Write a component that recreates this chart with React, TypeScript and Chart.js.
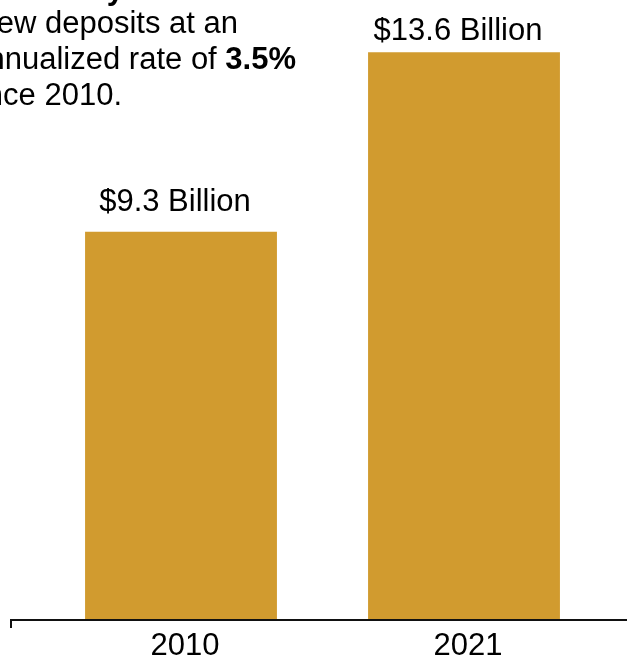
import React, { useEffect, useRef } from "react";
import { Chart, registerables } from "chart.js";

Chart.register(...registerables);

const categories = ["2010", "2021"];
const depositValues = [9.3, 13.6];
const valueLabels = ["$9.3 Billion", "$13.6 Billion"];

type Run = { text: string; bold: boolean };
const noteLines: Run[][] = [
  [{ text: "Deposits grew ", bold: true }, { text: "steadily", bold: true }],
  [{ text: "new deposits at an", bold: false }],
  [{ text: "annualized rate of ", bold: false }, { text: "3.5%", bold: true }],
  [{ text: "since 2010.", bold: false }],
];

// layout constants (right edge and baseline of each note line)
const noteRight = [124, 238, 296, 122];
const noteBaseline = [-1, 33, 69, 105];

const FONT = "'Liberation Sans', Arial, Helvetica, sans-serif";
const BAR_COLOR = "#D19B2F";

const notePlugin = {
  id: "notePlugin",
  afterDraw(chart: any) {
    const ctx = chart.ctx as CanvasRenderingContext2D;
    ctx.save();
    ctx.fillStyle = "#000";
    ctx.textBaseline = "alphabetic";
    ctx.textAlign = "left";
    noteLines.forEach((runs, i) => {
      let total = 0;
      const widths = runs.map((r) => {
        ctx.font = `${r.bold ? "bold " : ""}31px ${FONT}`;
        const w = ctx.measureText(r.text).width;
        total += w;
        return w;
      });
      let x = noteRight[i] - total;
      runs.forEach((r, j) => {
        ctx.font = `${r.bold ? "bold " : ""}31px ${FONT}`;
        ctx.fillText(r.text, x, noteBaseline[i]);
        x += widths[j];
      });
    });
    ctx.restore();
  },
};

const valueLabelPlugin = {
  id: "valueLabelPlugin",
  afterDatasetsDraw(chart: any) {
    const ctx = chart.ctx as CanvasRenderingContext2D;
    const meta = chart.getDatasetMeta(0);
    ctx.save();
    ctx.fillStyle = "#000";
    ctx.font = `31px ${FONT}`;
    ctx.textAlign = "center";
    ctx.textBaseline = "alphabetic";
    meta.data.forEach((bar: any, i: number) => {
      const y = Math.max(bar.y - 21, 40);
      ctx.fillText(valueLabels[i], bar.x - 6, y);
    });
    ctx.restore();
  },
};

const axisLinePlugin = {
  id: "axisLinePlugin",
  afterDatasetsDraw(chart: any) {
    const ctx = chart.ctx as CanvasRenderingContext2D;
    const y = chart.scales.y.getPixelForValue(0);
    ctx.save();
    ctx.strokeStyle = "#111";
    ctx.lineWidth = 2;
    ctx.beginPath();
    ctx.moveTo(11, y + 8);
    ctx.lineTo(11, y);
    ctx.lineTo(chart.width, y);
    ctx.stroke();
    ctx.restore();
  },
};

export default function App() {
  const canvasRef = useRef<HTMLCanvasElement | null>(null);

  useEffect(() => {
    if (!canvasRef.current) return;
    Chart.defaults.font.family = FONT;
    const chart = new Chart(canvasRef.current, {
      type: "bar",
      data: {
        labels: categories,
        datasets: [
          {
            data: depositValues,
            backgroundColor: BAR_COLOR,
            borderWidth: 0,
            categoryPercentage: 1,
            barPercentage: 0.678,
          },
        ],
      },
      options: {
        animation: false,
        responsive: true,
        maintainAspectRatio: false,
        layout: { padding: { left: 39.5, right: 21.5, top: 0, bottom: 0 } },
        plugins: {
          legend: { display: false },
          tooltip: { enabled: false },
          title: { display: false },
        },
        scales: {
          x: {
            grid: { display: false, drawTicks: false },
            border: { display: false },
            ticks: {
              color: "#000",
              font: { size: 31, family: FONT },
              padding: 8,
              labelOffset: 4,
              maxRotation: 0,
              autoSkip: false,
            },
            afterFit(scale: any) {
              scale.height = 39;
            },
          },
          y: {
            display: false,
            min: 0,
            max: 14.85,
          },
        },
      },
      plugins: [axisLinePlugin, valueLabelPlugin, notePlugin],
    });
    return () => chart.destroy();
  }, []);

  return (
    <div style={{ position: "fixed", left: 0, top: 0, width: 627, height: 659, background: "#fff" }}>
      <canvas ref={canvasRef} />
    </div>
  );
}
